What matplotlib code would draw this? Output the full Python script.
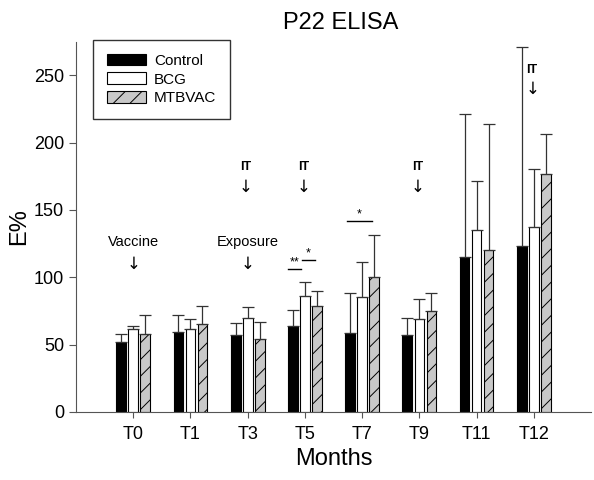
import matplotlib.pyplot as plt
import numpy as np

plt.rcParams["font.family"] = ["Liberation Sans", "DejaVu Sans"]
plt.rcParams["hatch.linewidth"] = 0.7

months = ["T0", "T1", "T3", "T5", "T7", "T9", "T11", "T12"]
groups = ["Control", "BCG", "MTBVAC"]
control_mean = [52.2, 59.6, 57.1, 64.0, 58.8, 57.4, 115.0, 123.4]
control_err = [5.4, 12.1, 8.7, 11.7, 29.7, 12.3, 106.6, 147.4]
bcg_mean = [61.6, 61.3, 69.5, 86.3, 85.5, 68.8, 134.8, 137.2]
bcg_err = [2.4, 7.7, 8.6, 10.4, 25.5, 14.8, 37.1, 43.3]
mtbvac_mean = [57.6, 65.5, 53.9, 78.6, 99.9, 74.9, 120.2, 176.6]
mtbvac_err = [14.4, 13.4, 12.6, 11.2, 31.4, 13.1, 93.4, 29.6]

# event labels: (category index, label, text y, arrow y)
events = [(0, "Vaccine", 126, 110), (2, "Exposure", 126, 110)]
it_marks = [(2, 182, 167), (3, 182, 167), (5, 182, 167), (7, 254, 240)]
# significance: (x start, x end, y, stars)
sig = [(2.71, 2.93, 106, "**"), (2.95, 3.18, 113, "*"), (3.73, 4.17, 142, "*")]

fig = plt.figure(figsize=(5.94, 4.80), dpi=100)
ax = fig.add_axes([0.128, 0.142, 0.867, 0.771])

x = np.arange(len(months))
w = 0.17
off = 0.21
ekw = dict(ecolor="#333333", elinewidth=0.9, capsize=4, capthick=0.9)
zeros = np.zeros(len(months))

ax.bar(x - off, control_mean, w, color="black", edgecolor="black", linewidth=0.8,
       yerr=[zeros, control_err], error_kw=ekw, label="Control")
ax.bar(x, bcg_mean, w, color="white", edgecolor="black", linewidth=0.8,
       yerr=[zeros, bcg_err], error_kw=ekw, label="BCG")
ax.bar(x + off, mtbvac_mean, w, color="#c8c8c8", edgecolor="black", linewidth=0.8,
       hatch="//", yerr=[zeros, mtbvac_err], error_kw=ekw, label="MTBVAC")

ax.set_xlim(-1, 8)
ax.set_ylim(0, 275)
ax.set_xticks(x)
ax.set_xticklabels(months, fontsize=13)
ax.set_yticks([0, 50, 100, 150, 200, 250])
ax.tick_params(axis="y", labelsize=13, length=5, color="#555555")
ax.tick_params(axis="x", length=4, color="#555555", pad=6)
for s in ["top", "right"]:
    ax.spines[s].set_visible(False)
for s in ["left", "bottom"]:
    ax.spines[s].set_color("#555555")

ax.set_xlabel("Months", fontsize=17, labelpad=4)
ax.set_ylabel("E%", fontsize=17, labelpad=3)
fig.text(341 / 594, 1 - 23 / 480, "P22 ELISA", fontsize=17, ha="center", va="center")

for i, lab, ty, ay in events:
    ax.text(i, ty, lab, fontsize=10.5, ha="center", va="center")
    ax.text(i, ay, "\u2193", fontsize=12, ha="center", va="center", family="DejaVu Sans")
for i, ty, ay in it_marks:
    ax.text(i - 0.03, ty, "IT", fontsize=9, fontweight="bold", ha="center", va="center")
    ax.text(i - 0.03, ay, "\u2193", fontsize=12, ha="center", va="center", family="DejaVu Sans")
for x0, x1, y, stars in sig:
    ax.plot([x0, x1], [y, y], color="black", lw=1)
    ax.text((x0 + x1) / 2, y + 0.5, stars, fontsize=9, ha="center", va="bottom")

leg = ax.legend(loc="upper left", bbox_to_anchor=(0.033, 1.005), borderaxespad=0,
                fontsize=11, fancybox=False, edgecolor="#333333", framealpha=1,
                handlelength=2.6, handleheight=0.8, handletextpad=0.5,
                borderpad=0.9, labelspacing=0.3)
leg.get_frame().set_linewidth(1)

fig.savefig("out.png", dpi=100)
